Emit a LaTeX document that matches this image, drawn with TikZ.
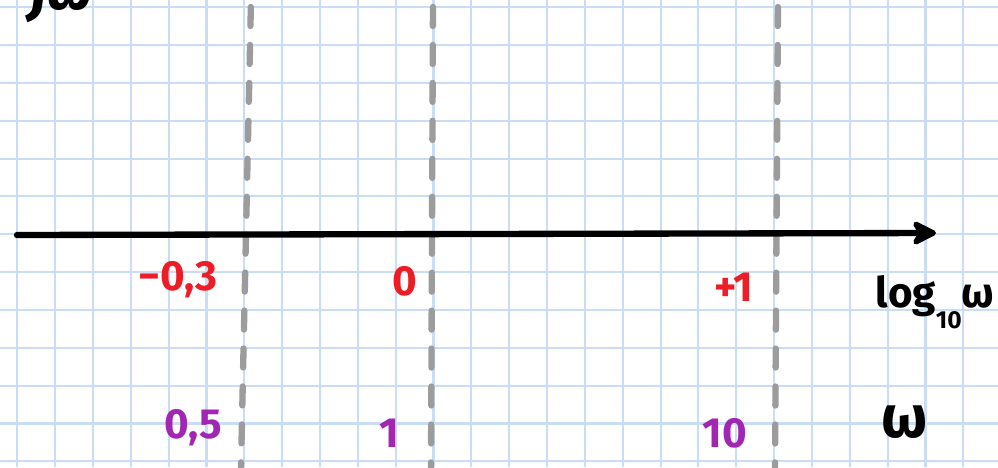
\documentclass[tikz,border=0pt]{standalone}
\usepackage{fontspec}
\setmainfont{Fira Sans}
\usetikzlibrary{arrows.meta}

\definecolor{gridblue}{HTML}{C9DDF6}
\definecolor{markred}{HTML}{EE1C25}
\definecolor{markpurple}{HTML}{A226B4}
\definecolor{guidegray}{HTML}{9C9C9C}

\tikzset{
  guide/.style={line width=3.6pt,guidegray,line cap=round,dash pattern=on 10.8pt off 10.8pt,dash phase=-4pt},
  logval/.style={text=markred,font=\fontsize{24}{26}\selectfont\bfseries,inner sep=0pt},
  linval/.style={text=markpurple,font=\fontsize{24}{26}\selectfont\bfseries,inner sep=0pt},
  axlabel/.style={text=black,font=\fontsize{24}{26}\selectfont\bfseries,inner sep=0pt}
}

\begin{document}
\begin{tikzpicture}[x=0.02cm,y=-0.02cm]
\useasboundingbox (0,0) rectangle (998,467);
\clip (0,0) rectangle (998,467);
\fill[white] (0,0) rectangle (998,467);
% grid paper
\foreach \k in {0,...,25}
  \draw[gridblue,line width=1.2pt] (17.3+37.84*\k,0) -- (17.3+37.84*\k,467);
\foreach \k in {0,...,12}
  \draw[gridblue,line width=1.2pt] (0,7.2+37.84*\k) -- (998,7.2+37.84*\k);
\coordinate (ga) at (251,0);
\coordinate (gb) at (241,467);
\coordinate (ha) at (433,0);
\coordinate (hb) at (431,467);
\coordinate (ka) at (778,0);
\coordinate (kb) at (775,467);
\coordinate (axl) at (17,235);
\coordinate (axr) at (936,233);
\draw[guide] (ga) -- (gb);
\draw[guide] (ha) -- (hb);
\draw[guide] (ka) -- (kb);
\draw[line width=3.6pt,line cap=round,-{Stealth[length=17pt,width=17pt,inset=5pt,round]}] (axl) -- (axr);
\node[logval] (lm) at (178,280) {−0,3};
\node[logval] (l0) at (405,281) {0};
\node[logval] (l1) at (734,287) {+1};
\node[linval] (w05) at (193,428) {0,5};
\node[linval] (w1) at (389,433) {1};
\node[linval] (w10) at (725,433) {10};
\node[axlabel] (logw) at (935,302) {log\raisebox{-0.5em}{\fontsize{14}{14}\selectfont 10}ω};
\node[axlabel,font=\fontsize{34}{36}\selectfont\bfseries] (om) at (905,422) {ω};
\node[axlabel,anchor=base,font=\fontsize{34}{36}\selectfont\bfseries\itshape] (jw) at (62,9) {jω};
\end{tikzpicture}
\end{document}
